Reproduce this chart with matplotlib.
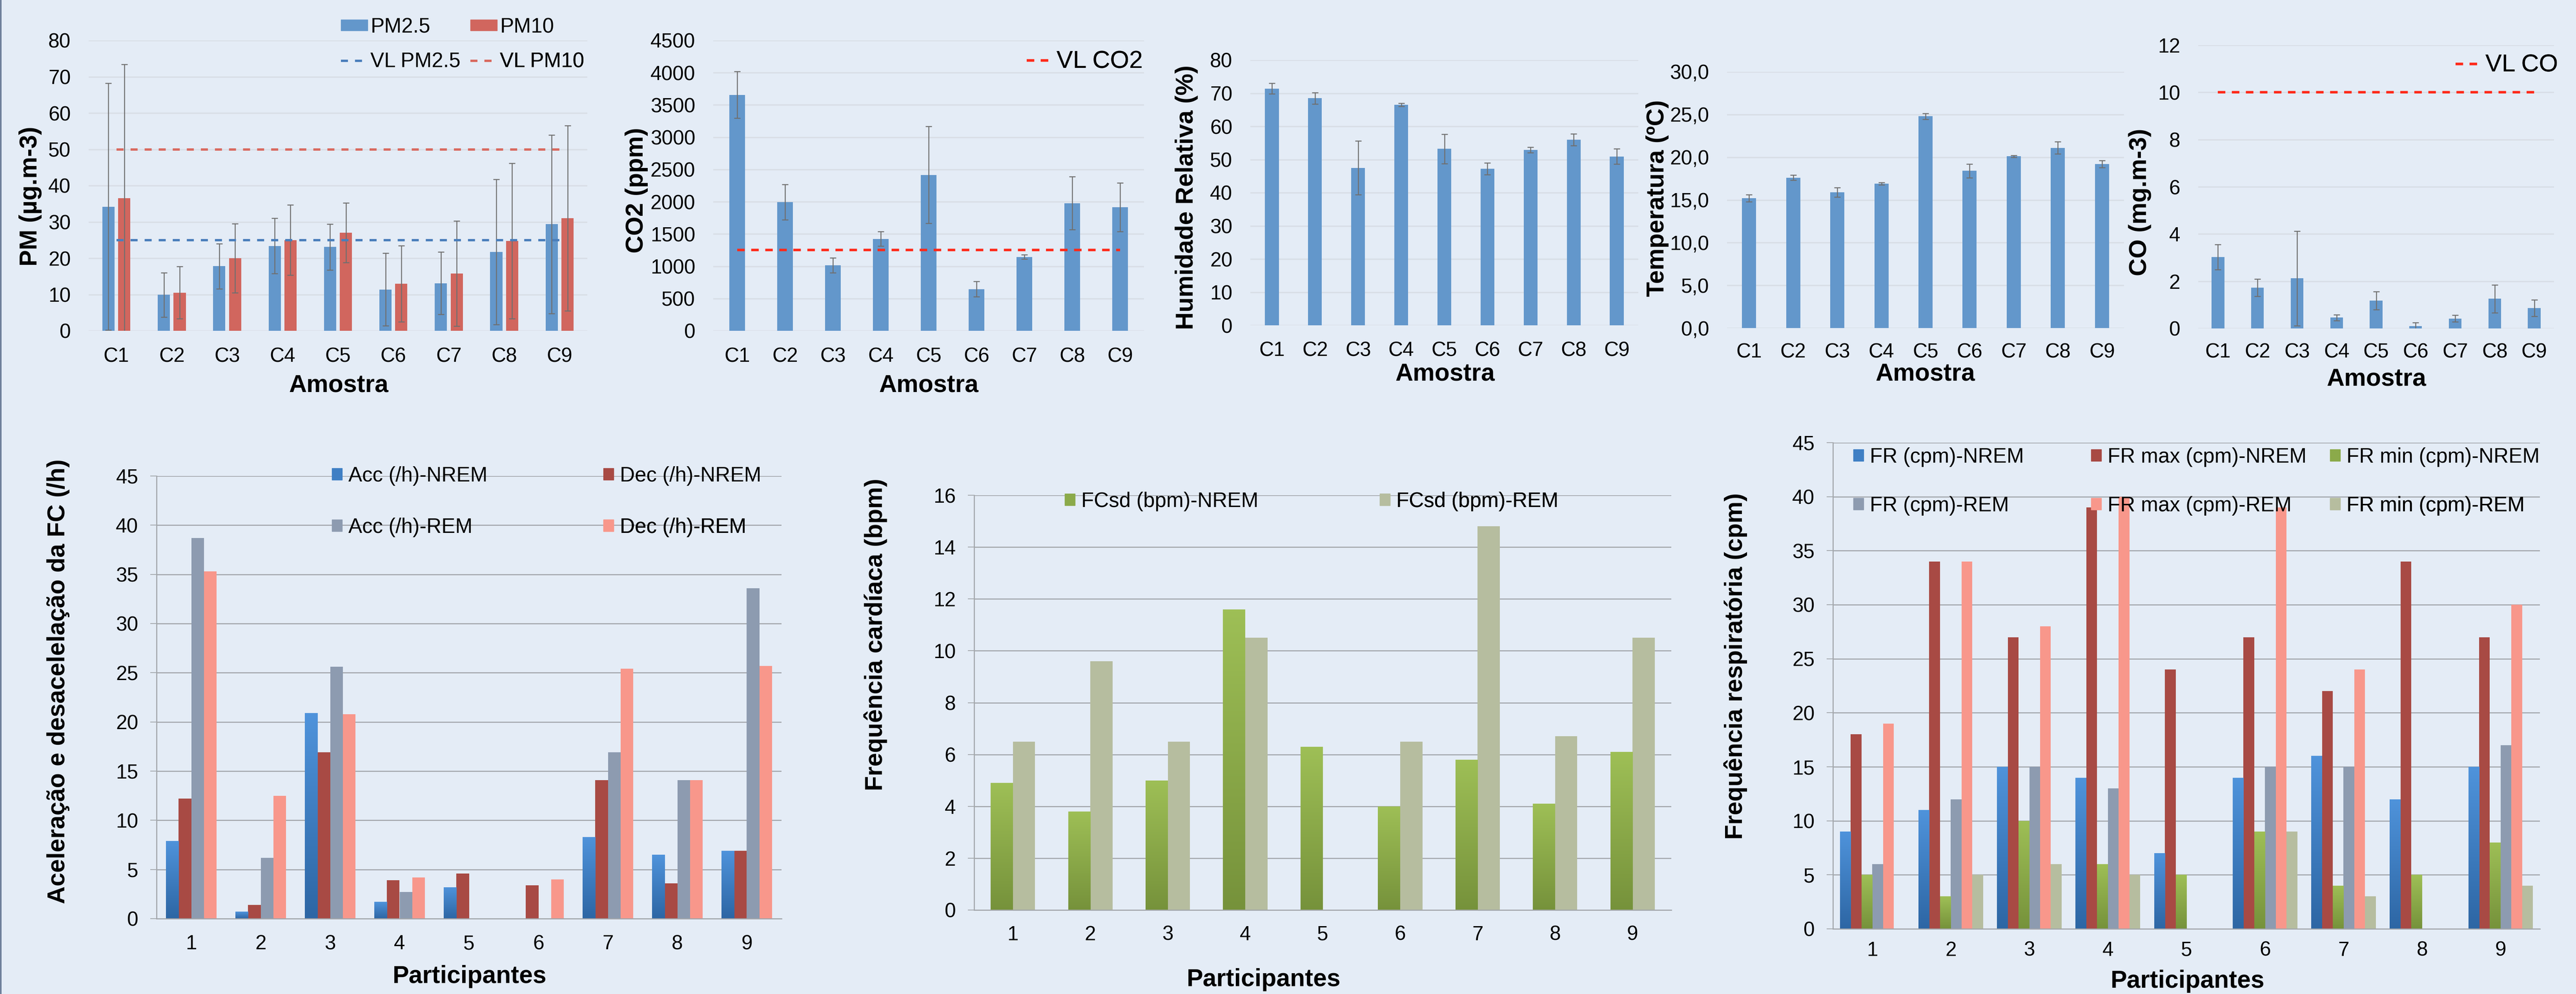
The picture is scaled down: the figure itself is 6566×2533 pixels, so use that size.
import numpy as np
import matplotlib
matplotlib.use('Agg')
import matplotlib.pyplot as plt
from matplotlib.patches import Patch
from matplotlib.lines import Line2D
from matplotlib.colors import LinearSegmentedColormap

plt.rcParams['font.family'] = ['Liberation Sans', 'DejaVu Sans']

# ---- dados: qualidade do ar (amostras C1..C9) ----
amostras = ['C1', 'C2', 'C3', 'C4', 'C5', 'C6', 'C7', 'C8', 'C9']
pm25 = [34.2, 9.9, 17.8, 23.4, 23.1, 11.4, 13.1, 21.7, 29.4]
pm25_sd = [34.0, 6.1, 6.2, 7.6, 6.3, 10.0, 8.6, 20.0, 24.6]
pm10 = [36.5, 10.5, 20.0, 25.0, 27.0, 13.0, 15.8, 24.8, 31.0]
pm10_sd = [36.9, 7.2, 9.5, 9.7, 8.2, 10.5, 14.5, 21.4, 25.5]
vl_pm25 = 25
vl_pm10 = 50
co2 = [3655, 1994, 1015, 1426, 2417, 646, 1145, 1978, 1917]
co2_sd = [362, 272, 118, 110, 751, 118, 33, 410, 378]
vl_co2 = 1250
humidade = [71.4, 68.5, 47.5, 66.5, 53.2, 47.2, 52.9, 56.0, 50.9]
humidade_sd = [1.6, 1.7, 8.1, 0.5, 4.4, 1.8, 0.8, 1.8, 2.3]
temperatura = [15.2, 17.6, 15.9, 16.9, 24.8, 18.4, 20.1, 21.1, 19.2]
temperatura_sd = [0.4, 0.3, 0.55, 0.15, 0.35, 0.8, 0.1, 0.7, 0.4]
co = [3.03, 1.73, 2.12, 0.46, 1.18, 0.10, 0.42, 1.26, 0.87]
co_sd = [0.53, 0.36, 2.0, 0.13, 0.38, 0.15, 0.14, 0.59, 0.35]
vl_co = 10

# ---- dados: participantes 1..9 ----
participantes = ['1', '2', '3', '4', '5', '6', '7', '8', '9']
acc_nrem = [7.9, 0.7, 20.9, 1.7, 3.2, 0, 8.3, 6.5, 6.9]
dec_nrem = [12.2, 1.4, 16.9, 3.9, 4.6, 3.4, 14.1, 3.6, 6.9]
acc_rem = [38.7, 6.2, 25.6, 2.7, 0, 0, 16.9, 14.1, 33.6]
dec_rem = [35.3, 12.5, 20.8, 4.2, 0, 4.0, 25.4, 14.1, 25.7]
fcsd_nrem = [4.9, 3.8, 5.0, 11.6, 6.3, 4.0, 5.8, 4.1, 6.1]
fcsd_rem = [6.5, 9.6, 6.5, 10.5, 0, 6.5, 14.8, 6.7, 10.5]
fr_nrem = [9, 11, 15, 14, 7, 14, 16, 12, 15]
frmax_nrem = [18, 34, 27, 39, 24, 27, 22, 34, 27]
frmin_nrem = [5, 3, 10, 6, 5, 9, 4, 5, 8]
fr_rem = [6, 12, 15, 13, 0, 15, 15, 0, 17]
frmax_rem = [19, 34, 28, 40, 0, 39, 24, 0, 30]
frmin_rem = [0, 5, 6, 5, 0, 9, 3, 0, 4]

# ---- cores ----
BG = '#E4ECF6'
AZUL = '#6397CB'
VERM = '#D1665E'
VL_AZUL = '#4A7EBB'
VL_VERM = '#D9695F'
VL_RED = '#FF2A1A'
ERR = '#6F6F6F'
GRID_TOP = '#D8DEE6'
GRID_BOT = '#A3A7AC'
BLUE_TOP, BLUE_BOT = '#4F93DB', '#2D66A4'
GREEN_TOP, GREEN_BOT = '#9EBF56', '#76923B'
DARKRED = '#A84A44'
ACC_REM = '#8D9BB0'
DEC_REM = '#F8978B'
OLIVE_REM = '#B6BD9F'

W, H = 6566, 2533
fig = plt.figure(figsize=(W / 100, H / 100), dpi=100, facecolor=BG)
fig.add_artist(Line2D([2 / W, 2 / W], [0, 1], transform=fig.transFigure, color='#70819C', lw=3))


def add_ax(l, r, t, b):
    ax = fig.add_axes([l / W, 1 - b / H, (r - l) / W, (b - t) / H])
    ax.patch.set_visible(False)
    return ax


def titulo_x(texto, x, y):
    fig.text(x / W, 1 - y / H, texto, ha='center', va='center', fontsize=45, fontweight='bold')


def titulo_y(texto, x, y):
    fig.text(x / W, 1 - y / H, texto, ha='center', va='center', rotation=90, fontsize=45, fontweight='bold')


def legenda(ax, handle, label, x, y, hl, hh, pad, fs=38):
    lg = ax.legend([handle], [label], loc='center left', bbox_to_anchor=(x / W, 1 - y / H),
                   bbox_transform=fig.transFigure, frameon=False, borderpad=0, borderaxespad=0,
                   fontsize=fs, handlelength=hl, handleheight=hh, handletextpad=pad)
    ax.add_artist(lg)


def estilo_topo(ax, ymax, step, xpad, labels=None):
    for s in ax.spines.values():
        s.set_visible(False)
    ax.set_xlim(-0.5, 8.5)
    ax.set_ylim(0, ymax)
    ticks = np.arange(0, ymax + step / 2, step)
    ax.set_yticks(ticks)
    if labels is not None:
        ax.set_yticklabels(labels)
    ax.set_xticks(range(9))
    ax.set_xticklabels(amostras)
    ax.tick_params(axis='y', length=0, labelsize=37, pad=33)
    ax.tick_params(axis='x', length=0, labelsize=37, pad=xpad)
    ax.yaxis.grid(True, color=GRID_TOP, lw=2.5)
    ax.set_axisbelow(True)


def estilo_baixo(ax, ymax, step, xpad):
    for s in ['top', 'right']:
        ax.spines[s].set_visible(False)
    for s in ['left', 'bottom']:
        ax.spines[s].set_color(GRID_BOT)
        ax.spines[s].set_linewidth(2)
    ax.set_xlim(-0.5, 8.5)
    ax.set_ylim(0, ymax)
    ax.set_yticks(np.arange(0, ymax + step / 2, step))
    ax.set_xticks(range(9))
    ax.set_xticklabels(participantes)
    ax.tick_params(axis='y', length=11.5, width=1.5, color=GRID_BOT, labelsize=37, pad=22)
    ax.tick_params(axis='x', length=0, labelsize=37, pad=xpad)
    ax.yaxis.grid(True, color=GRID_BOT, lw=2)
    ax.set_axisbelow(True)


def gradiente(ax, bars, c_top, c_bot):
    cmap = LinearSegmentedColormap.from_list('g', [c_bot, c_top])
    grad = np.linspace(0, 1, 128).reshape(-1, 1)
    for b in bars:
        h = b.get_height()
        if h <= 0:
            continue
        x0 = b.get_x()
        im = ax.imshow(grad, cmap=cmap, origin='lower', aspect='auto', interpolation='bilinear',
                       extent=(x0, x0 + b.get_width(), 0, h), zorder=b.get_zorder() + 0.1)
        im.set_clip_path(b)


ekw = dict(ecolor=ERR, elinewidth=1.8, capsize=6, capthick=1.8)
x = np.arange(9)

# ---- PM ----
ax = add_ax(226, 1497, 103, 843)
ax.bar(x - 0.143, pm25, 0.22, color=AZUL, yerr=pm25_sd, error_kw=ekw)
ax.bar(x + 0.143, pm10, 0.22, color=VERM, yerr=pm10_sd, error_kw=ekw)
l25, = ax.plot(x, [vl_pm25] * 9, color=VL_AZUL, lw=4.3, dashes=(3, 3))
l10, = ax.plot(x, [vl_pm10] * 9, color=VL_VERM, lw=4.3, dashes=(3, 3))
estilo_topo(ax, 80, 10, 30)
legenda(ax, Patch(color=AZUL), 'PM2.5', 869, 69, 1.28, 0.45, 0.15)
legenda(ax, Patch(color=VERM), 'PM10', 1199, 69, 1.28, 0.45, 0.15)
legenda(ax, l25, 'VL PM2.5', 869, 157, 1.28, 0.45, 0.15)
legenda(ax, l10, 'VL PM10', 1199, 157, 1.28, 0.45, 0.15)
titulo_y('PM (µg.m-3)', 78, 500)
titulo_x('Amostra', 863, 982)

# ---- CO2 ----
ax = add_ax(1818, 2916, 103, 843)
ax.bar(x, co2, 0.32, color=AZUL, yerr=co2_sd, error_kw=ekw)
lco2, = ax.plot(x, [vl_co2] * 9, color=VL_RED, lw=4.6, dashes=(3, 2.6))
estilo_topo(ax, 4500, 500, 30)
legenda(ax, lco2, 'VL CO2', 2617, 157, 1.02, 0.4, 0.2, fs=45)
titulo_y('CO2 (ppm)', 1623, 485)
titulo_x('Amostra', 2367, 982)

# ---- Humidade ----
ax = add_ax(3187, 4176, 153, 829)
ax.bar(x, humidade, 0.32, color=AZUL, yerr=humidade_sd, error_kw=ekw)
estilo_topo(ax, 80, 10, 29)
titulo_y('Humidade Relativa (%)', 3024, 503)
titulo_x('Amostra', 3683, 953)

# ---- Temperatura ----
ax = add_ax(4402, 5414, 183, 836)
ax.bar(x, temperatura, 0.32, color=AZUL, yerr=temperatura_sd, error_kw=ekw)
estilo_topo(ax, 30, 5, 27, labels=[f'{v:.1f}'.replace('.', ',') for v in np.arange(0, 31, 5)])
titulo_y('Temperatura (ºC)', 4224, 505)
titulo_x('Amostra', 4907, 953)

# ---- CO ----
ax = add_ax(5603, 6510, 115, 837)
ax.bar(x, co, 0.32, color=AZUL, yerr=co_sd, error_kw=ekw)
lco, = ax.plot(x, [vl_co] * 9, color=VL_RED, lw=4.6, dashes=(3, 2.6))
estilo_topo(ax, 12, 2, 26)
legenda(ax, lco, 'VL CO', 6259, 166, 1.02, 0.4, 0.2, fs=45)
titulo_y('CO (mg.m-3)', 5455, 515)
titulo_x('Amostra', 6057, 966)

# ---- Aceleração / desaceleração ----
ax = add_ax(399, 1992, 1213, 2341)
w = 0.182
b1 = ax.bar(x - 1.5 * w, acc_nrem, w, color=BLUE_BOT)
ax.bar(x - 0.5 * w, dec_nrem, w, color=DARKRED)
ax.bar(x + 0.5 * w, acc_rem, w, color=ACC_REM)
ax.bar(x + 1.5 * w, dec_rem, w, color=DEC_REM)
gradiente(ax, b1, BLUE_TOP, BLUE_BOT)
estilo_baixo(ax, 45, 5, 29)
legenda(ax, Patch(color='#3F7FC4'), 'Acc (/h)-NREM', 846, 1213, 0.5, 0.5, 0.3)
legenda(ax, Patch(color=DARKRED), 'Dec (/h)-NREM', 1538, 1213, 0.5, 0.5, 0.3)
legenda(ax, Patch(color=ACC_REM), 'Acc (/h)-REM', 846, 1344, 0.5, 0.5, 0.3)
legenda(ax, Patch(color=DEC_REM), 'Dec (/h)-REM', 1538, 1344, 0.5, 0.5, 0.3)
titulo_y('Aceleração e desacelelação da FC (/h)', 149, 1736)
titulo_x('Participantes', 1197, 2488)

# ---- FCsd ----
ax = add_ax(2483, 4260, 1262, 2319)
w = 0.287
b1 = ax.bar(x - 0.5 * w, fcsd_nrem, w, color=GREEN_BOT)
ax.bar(x + 0.5 * w, fcsd_rem, w, color=OLIVE_REM)
gradiente(ax, b1, GREEN_TOP, GREEN_BOT)
estilo_baixo(ax, 16, 2, 28)
legenda(ax, Patch(color='#8BAA4A'), 'FCsd (bpm)-NREM', 2714, 1278, 0.5, 0.5, 0.3)
legenda(ax, Patch(color=OLIVE_REM), 'FCsd (bpm)-REM', 3517, 1278, 0.5, 0.5, 0.3)
titulo_y('Frequência cardíaca (bpm)', 2232, 1617)
titulo_x('Participantes', 3221, 2497)

# ---- FR ----
ax = add_ax(4672, 6474, 1128, 2367)
w = 0.137
b1 = ax.bar(x - 2.5 * w, fr_nrem, w, color=BLUE_BOT)
ax.bar(x - 1.5 * w, frmax_nrem, w, color=DARKRED)
b3 = ax.bar(x - 0.5 * w, frmin_nrem, w, color=GREEN_BOT)
ax.bar(x + 0.5 * w, fr_rem, w, color=ACC_REM)
ax.bar(x + 1.5 * w, frmax_rem, w, color=DEC_REM)
ax.bar(x + 2.5 * w, frmin_rem, w, color=OLIVE_REM)
gradiente(ax, b1, BLUE_TOP, BLUE_BOT)
gradiente(ax, b3, GREEN_TOP, GREEN_BOT)
estilo_baixo(ax, 45, 5, 22)
legenda(ax, Patch(color='#3F7FC4'), 'FR (cpm)-NREM', 4724, 1165, 0.5, 0.5, 0.3)
legenda(ax, Patch(color=DARKRED), 'FR max (cpm)-NREM', 5330, 1165, 0.5, 0.5, 0.3)
legenda(ax, Patch(color='#8BAA4A'), 'FR min (cpm)-NREM', 5939, 1165, 0.5, 0.5, 0.3)
legenda(ax, Patch(color=ACC_REM), 'FR (cpm)-REM', 4724, 1289, 0.5, 0.5, 0.3)
legenda(ax, Patch(color=DEC_REM), 'FR max (cpm)-REM', 5330, 1289, 0.5, 0.5, 0.3)
legenda(ax, Patch(color=OLIVE_REM), 'FR min (cpm)-REM', 5939, 1289, 0.5, 0.5, 0.3)
titulo_y('Frequência respiratória (cpm)', 4424, 1698)
titulo_x('Participantes', 5576, 2501)

fig.savefig('out.png', dpi=100, facecolor=BG)
